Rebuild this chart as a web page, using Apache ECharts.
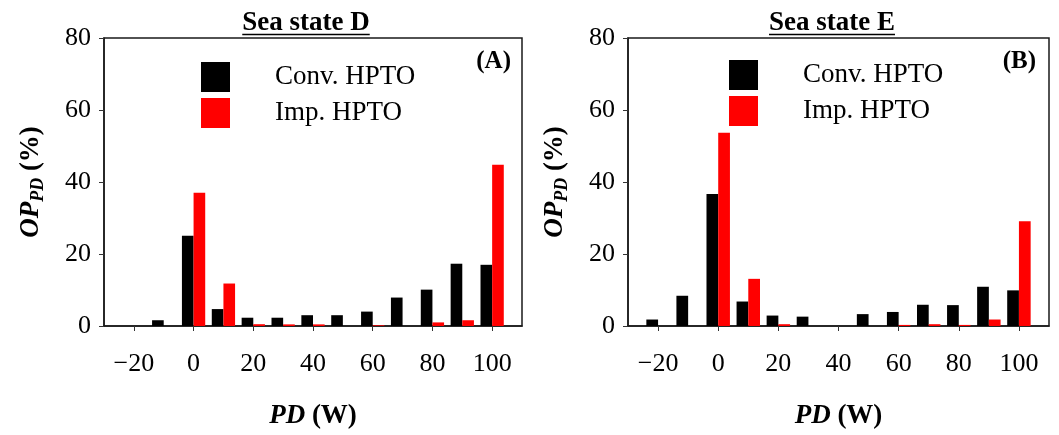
<!DOCTYPE html>
<html>
<head>
<meta charset="utf-8">
<script src="https://cdn.jsdelivr.net/npm/echarts@6/dist/echarts.min.js"></script>
<style>
    html, body { margin: 0; padding: 0; background: #fff; }
    #chart { width: 1059px; height: 435px; }
</style>
</head>
<body>
<div id="chart"></div>
<script>
// PD bins (W), bar groups are centred on these
const pdBins = [-20, -10, 0, 10, 20, 30, 40, 50, 60, 70, 80, 90, 100];
// axis runs one bin further on each side
const axisCats = [-30].concat(pdBins, [110]).map(String);

// OP_PD (%) - sea state D
const convD = [0, 1.6, 25.1, 4.7, 2.3, 2.3, 3.0, 3.0, 4.0, 7.9, 10.1, 17.3, 17.0];
const impD = [0, 0, 37.0, 11.8, 0.5, 0.45, 0.45, 0, 0.2, 0, 1.0, 1.6, 44.8];
// OP_PD (%) - sea state E
const convE = [1.8, 8.4, 36.7, 6.8, 2.9, 2.6, 0, 3.3, 3.9, 5.9, 5.8, 10.9, 9.9];
const impE = [0, 0, 53.7, 13.1, 0.5, 0, 0, 0, 0.3, 0.5, 0.3, 1.8, 29.1];

const yTicks = { min: 0, max: 80, step: 20 };
const seriesNames = ['Conv. HPTO', 'Imp. HPTO'];

const FONT = 'Liberation Serif';
const pad = arr => ['-'].concat(arr, ['-']);
const showTick = (idx, val) => Number(val) % 20 === 0;

// text width helper for the underlines under the titles
const measure = (txt, font) => {
    const ctx = document.createElement('canvas').getContext('2d');
    ctx.font = font;
    return ctx.measureText(txt).width;
};

const chart = echarts.init(document.getElementById('chart'), null, { renderer: 'canvas' });

const grids = [
    { left: 104, right: 537, top: 38, bottom: 106 },
    { left: 628, right: 10, top: 38, bottom: 106 }
];

const xAxisFor = gi => ({
    type: 'category',
    gridIndex: gi,
    data: axisCats,
    boundaryGap: false,
    name: '{i|PD}{b| (W)}',
    nameLocation: 'middle',
    nameGap: 77,
    nameTextStyle: {
        rich: {
            i: { fontFamily: FONT, fontSize: 27, fontWeight: 'bold', fontStyle: 'italic', color: '#000' },
            b: { fontFamily: FONT, fontSize: 27, fontWeight: 'bold', color: '#000' }
        }
    },
    axisLine: { show: true, lineStyle: { color: '#1a1a1a', width: 1.5 } },
    axisTick: { show: true, inside: false, length: 5, interval: showTick, lineStyle: { color: '#333', width: 1 } },
    axisLabel: {
        interval: showTick,
        formatter: v => v.replace('-', '\u2212'),
        fontFamily: FONT,
        fontSize: 26,
        color: '#000',
        margin: 25
    },
    splitLine: { show: false }
});

const yAxisFor = gi => ({
    type: 'value',
    gridIndex: gi,
    min: yTicks.min,
    max: yTicks.max,
    interval: yTicks.step,
    name: '{i|OP}{s|PD}{b| (%)}',
    nameLocation: 'middle',
    nameRotate: 90,
    nameGap: 57,
    nameTextStyle: {
        rich: {
            i: { fontFamily: FONT, fontSize: 27, fontWeight: 'bold', fontStyle: 'italic', color: '#000', lineHeight: 32 },
            s: { fontFamily: FONT, fontSize: 18, fontWeight: 'bold', fontStyle: 'italic', color: '#000', lineHeight: 18, verticalAlign: 'bottom' },
            b: { fontFamily: FONT, fontSize: 27, fontWeight: 'bold', color: '#000', lineHeight: 32 }
        }
    },
    axisLine: { show: true, lineStyle: { color: '#1a1a1a', width: 1.5 } },
    axisTick: { show: true, inside: false, length: 5, lineStyle: { color: '#333', width: 1 } },
    axisLabel: { fontFamily: FONT, fontSize: 26, color: '#000', margin: 13 },
    splitLine: { show: false }
});

const barSeries = (name, data, gi, color) => ({
    name: name,
    type: 'bar',
    xAxisIndex: gi,
    yAxisIndex: gi,
    data: pad(data),
    barWidth: '39%',
    barGap: '0%',
    itemStyle: { color: color },
    animation: false
});

const legendFor = (left, top) => ({
    data: seriesNames,
    orient: 'vertical',
    left: left,
    top: top,
    padding: 0,
    icon: 'rect',
    itemWidth: 29,
    itemHeight: 30,
    itemGap: 6,
    selectedMode: false,
    formatter: n => '{t|' + n + '}',
    textStyle: {
        rich: { t: { fontFamily: FONT, fontSize: 27, color: '#000', padding: [0, 0, 0, 40] } }
    }
});

const titleFont = 'bold 27px "' + FONT + '"';
const titleItem = (txt, cx) => {
    const w = measure(txt, titleFont);
    return [
        {
            type: 'text',
            x: cx,
            y: 23,
            style: { text: txt, font: titleFont, fill: '#000', align: 'center', verticalAlign: 'middle' }
        },
        {
            type: 'line',
            shape: { x1: cx - w / 2, y1: 34.5, x2: cx + w / 2, y2: 34.5 },
            style: { stroke: '#000', lineWidth: 1.5 }
        }
    ];
};

const panelTag = (txt, xr) => ({
    type: 'text',
    x: xr,
    y: 62,
    style: { text: txt, font: 'bold 25px "' + FONT + '"', fill: '#000', align: 'right', verticalAlign: 'middle' }
});

chart.setOption({
    animation: false,
    backgroundColor: '#fff',
    grid: grids.map(g => Object.assign({ show: true, borderColor: '#1a1a1a', borderWidth: 1.5, backgroundColor: 'transparent' }, g)),
    xAxis: [xAxisFor(0), xAxisFor(1)],
    yAxis: [yAxisFor(0), yAxisFor(1)],
    legend: [legendFor(201, 62), legendFor(729, 60)],
    series: [
        barSeries(seriesNames[0], convD, 0, '#000000'),
        barSeries(seriesNames[1], impD, 0, '#ff0000'),
        barSeries(seriesNames[0], convE, 1, '#000000'),
        barSeries(seriesNames[1], impE, 1, '#ff0000')
    ],
    graphic: [].concat(
        titleItem('Sea state D', 306),
        titleItem('Sea state E', 832),
        [panelTag('(A)', 511), panelTag('(B)', 1036)]
    )
});

window.addEventListener('resize', () => chart.resize());
</script>
</body>
</html>
